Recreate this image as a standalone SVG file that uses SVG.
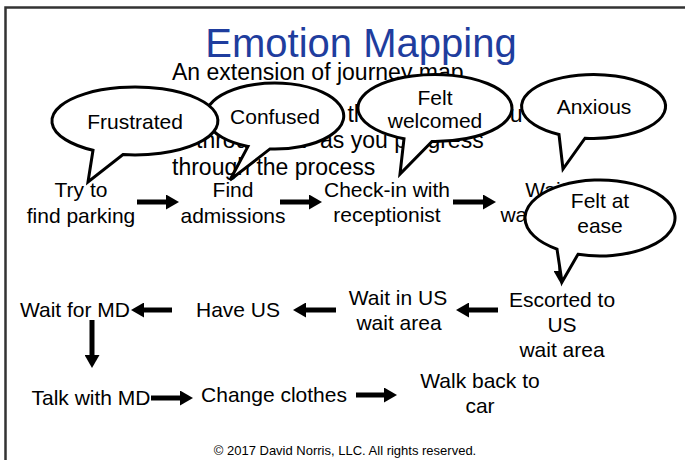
<svg xmlns="http://www.w3.org/2000/svg" width="685" height="460" viewBox="0 0 685 460">
  <style>
    .frame { fill: #ffffff; stroke: #333333; stroke-width: 2.5; }
    .title { font-family: "Liberation Sans", Arial, sans-serif; font-size: 40px; fill: #1f3d9e; text-anchor: middle; }
    .body { font-family: "Liberation Sans", Arial, sans-serif; font-size: 23px; fill: #000000; }
    .step { font-family: "Liberation Sans", Arial, sans-serif; font-size: 21px; fill: #000000; text-anchor: middle; }
    .bubble { fill: #ffffff; stroke: #000000; stroke-width: 3; stroke-linejoin: miter; }
    .feel { font-family: "Liberation Sans", Arial, sans-serif; font-size: 21px; fill: #000000; text-anchor: middle; }
    .flow { stroke: #000000; stroke-width: 5; fill: none; marker-end: url(#head); }
    .note { font-family: "Liberation Sans", Arial, sans-serif; font-size: 13px; fill: #000000; text-anchor: middle; }
  </style>
  <defs>
    <marker id="head" markerUnits="userSpaceOnUse" markerWidth="13" markerHeight="15" refX="1" refY="7.5" orient="auto">
      <path d="M0,0 L13,7.5 L0,15 Z" fill="#000000"/>
    </marker>
  </defs>

  <rect width="685" height="460" fill="#ffffff"/>
  <rect class="frame" x="5.5" y="7.5" width="700" height="480"/>

  <text class="title" x="361" y="57">Emotion Mapping</text>

  <g id="intro">
    <text class="body" x="172" y="80">An extension of journey map</text>
    <text class="body" x="272" y="122">Shows the emotions you feel</text>
    <text class="body" x="196" y="148">throughout <tspan x="320">as you progress</tspan></text>
    <text class="body" x="172" y="175">through the process</text>
  </g>

  <!-- journey steps -->
  <g id="step-parking"><text class="step" x="81" y="197">Try to</text><text class="step" x="81" y="223">find parking</text></g>
  <g id="step-admissions"><text class="step" x="233" y="197">Find</text><text class="step" x="233" y="223">admissions</text></g>
  <g id="step-checkin"><text class="step" x="387" y="197">Check-in with</text><text class="step" x="387" y="222">receptionist</text></g>
  <g id="step-waiting"><text class="step" x="557" y="197">Wait in</text><text class="step" x="557" y="222">waiting area</text></g>
  <g id="step-escorted"><text class="step" x="562" y="307">Escorted to</text><text class="step" x="562" y="332">US</text><text class="step" x="562" y="357">wait area</text></g>
  <g id="step-us-wait"><text class="step" x="398" y="305">Wait in US</text><text class="step" x="399" y="330">wait area</text></g>
  <g id="step-have-us"><text class="step" x="238" y="317">Have US</text></g>
  <g id="step-wait-md"><text class="step" x="75" y="317">Wait for MD</text></g>
  <g id="step-talk-md"><text class="step" x="91" y="405">Talk with MD</text></g>
  <g id="step-clothes"><text class="step" x="274" y="402">Change clothes</text></g>
  <g id="step-car"><text class="step" x="480" y="388">Walk back to</text><text class="step" x="480" y="413">car</text></g>

  <!-- flow arrows -->
  <g id="connectors">
    <line class="flow" x1="137" y1="202" x2="167" y2="202"/>
    <line class="flow" x1="280" y1="202" x2="310" y2="202"/>
    <line class="flow" x1="453" y1="202" x2="484" y2="202"/>
    <line class="flow" x1="561" y1="236" x2="561" y2="272"/>
    <line class="flow" x1="498" y1="310" x2="468" y2="310"/>
    <line class="flow" x1="336" y1="310" x2="305" y2="310"/>
    <line class="flow" x1="172" y1="310" x2="143" y2="310"/>
    <line class="flow" x1="92" y1="320" x2="92" y2="356"/>
    <line class="flow" x1="151" y1="398" x2="181" y2="398" stroke-width="4"/>
    <line class="flow" x1="356" y1="395" x2="385" y2="395"/>
  </g>

  <!-- speech bubbles -->
  <g id="bubble-confused">
    <path class="bubble" d="M270,148.9 A69 33 0 1 0 248,146.4 L230,180 Z"/>
    <text class="feel" x="275" y="124">Confused</text>
  </g>
  <g id="bubble-welcomed">
    <path class="bubble" d="M432,141.5 A77 33.5 0 1 0 404,138.7 L400,174 Z"/>
    <text class="feel" x="435" y="105">Felt</text>
    <text class="feel" x="435" y="128">welcomed</text>
  </g>
  <g id="bubble-anxious">
    <path class="bubble" d="M585,138.2 A72 32 0 1 0 559,134.5 L563,169 Z"/>
    <text class="feel" x="594" y="114">Anxious</text>
  </g>
  <g id="bubble-ease">
    <path class="bubble" d="M578,254.3 A75 38 0 1 0 557,249.1 L562,282 Z"/>
    <text class="feel" x="600" y="208">Felt at</text>
    <text class="feel" x="600" y="233">ease</text>
  </g>
  <g id="bubble-frustrated">
    <path class="bubble" d="M123,154.6 A83 34 0 1 0 93,150.3 L88,182 Z"/>
    <text class="feel" x="135" y="129">Frustrated</text>
  </g>

  <text class="note" x="345" y="455">© 2017 David Norris, LLC. All rights reserved.</text>
</svg>
